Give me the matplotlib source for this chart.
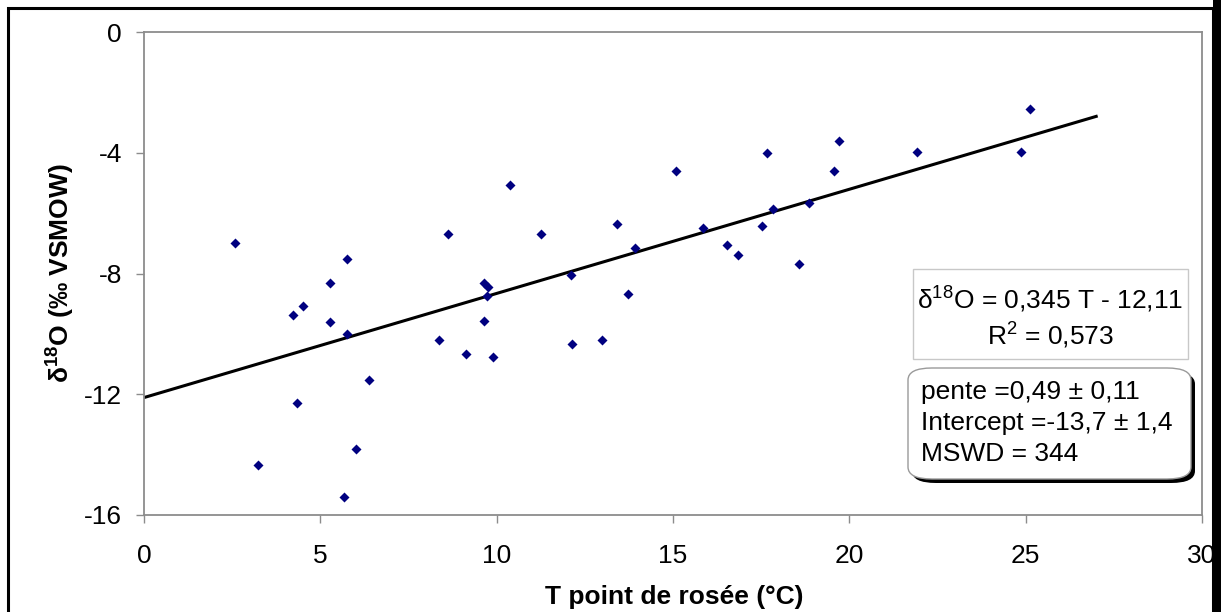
import matplotlib
matplotlib.use("Agg")
import matplotlib.pyplot as plt
from matplotlib.patches import Rectangle, FancyBboxPatch
import numpy as np

plt.rcParams['font.family'] = ['Liberation Sans', 'DejaVu Sans']
plt.rcParams['mathtext.fontset'] = 'custom'
plt.rcParams['mathtext.rm'] = 'Liberation Sans'
plt.rcParams['mathtext.bf'] = 'Liberation Sans:bold'
plt.rcParams['mathtext.default'] = 'rm'
plt.rcParams['axes.unicode_minus'] = False

# Data (dew point temperature °C, delta18O permil VSMOW)
t_dew = [2.57, 3.22, 4.22, 4.34, 4.52, 5.26, 5.26, 5.66, 5.75, 5.75, 6.01, 6.38,
         8.37, 8.63, 9.12, 9.64, 9.65, 9.73, 9.76, 9.91, 10.38, 11.25, 12.10, 12.14,
         12.99, 13.40, 13.72, 13.91, 15.08, 15.85, 16.53, 16.83, 17.53, 17.66, 17.83,
         18.56, 18.87, 19.57, 19.71, 21.93, 24.86, 25.11]
d18o = [-6.98, -14.36, -9.38, -12.30, -9.07, -8.32, -9.62, -15.39, -7.53, -10.01, -13.83, -11.52,
        -10.21, -6.69, -10.68, -8.31, -9.56, -8.73, -8.44, -10.75, -5.08, -6.70, -8.04, -10.32,
        -10.19, -6.37, -8.69, -7.15, -4.61, -6.49, -7.07, -7.39, -6.42, -4.00, -5.86,
        -7.68, -5.68, -4.61, -3.61, -3.99, -3.96, -2.54]
fit_slope = 0.345
fit_intercept = -12.11
fit_range = [0, 27]
x_ticks = [0, 5, 10, 15, 20, 25, 30]
y_ticks = [-16, -12, -8, -4, 0]

W, H = 1221, 612
FS = 19
fig = plt.figure(figsize=(W / 100, H / 100), dpi=100)

def fx(px):
    return px / W

def fy(py):
    return 1 - py / H

ax = fig.add_axes([fx(144), fy(515), fx(1202) - fx(144), fy(32) - fy(515)])
ax.set_xlim(0, 30)
ax.set_ylim(-16, 0)
ax.set_xticks(x_ticks)
ax.set_yticks(y_ticks)
ax.set_xticklabels([str(v) for v in x_ticks])
ax.set_yticklabels([str(v) for v in y_ticks])
for s in ax.spines.values():
    s.set_color('#8c8c8c')
    s.set_linewidth(1.3)
ax.tick_params(axis='both', colors='#8c8c8c', labelcolor='black', labelsize=FS,
               length=6, width=1, direction='out')
ax.tick_params(axis='x', pad=15)
ax.tick_params(axis='y', pad=10)

ax.scatter(t_dew, d18o, marker='D', s=26, color='#000080', zorder=3, linewidths=0)
xf = np.array(fit_range, dtype=float)
ax.plot(xf, fit_slope * xf + fit_intercept, color='black', lw=2.2, zorder=2)

fig.text(fx(61), fy(273), r'δ$^{\mathbf{18}}$O (‰ VSMOW)', rotation=90,
         ha='center', va='center', fontsize=FS, fontweight='bold')
fig.text(fx(674), fy(597), 'T point de rosée (°C)', ha='center', va='center',
         fontsize=FS, fontweight='bold')

# Equation box
fig.add_artist(Rectangle((fx(913), fy(359)), fx(1188) - fx(913), fy(269) - fy(359),
                         transform=fig.transFigure, facecolor='white',
                         edgecolor='#c8c8c8', lw=1, zorder=4))
fig.text(fx(1050), fy(300), r'δ$^{18}$O = 0,345 T - 12,11', ha='center', va='center',
         fontsize=FS, zorder=5)
fig.text(fx(1050), fy(336), r'R$^{2}$ = 0,573', ha='center', va='center',
         fontsize=FS, zorder=5)

# Rounded box with shadow
bx0, by0, bx1, by1 = 908, 368, 1191, 479
pad_px = 12
shadow = FancyBboxPatch((fx(bx0 + 4), fy(by1 + 4)), fx(bx1 - bx0), fy(by0) - fy(by1),
                        boxstyle=f"round,pad=0,rounding_size={pad_px/H}",
                        transform=fig.transFigure, facecolor='black', edgecolor='black',
                        lw=0, zorder=4)
fig.add_artist(shadow)
box = FancyBboxPatch((fx(bx0), fy(by1)), fx(bx1 - bx0), fy(by0) - fy(by1),
                     boxstyle=f"round,pad=0,rounding_size={pad_px/H}",
                     transform=fig.transFigure, facecolor='white', edgecolor='#9a9a9a',
                     lw=1, zorder=4.5)
fig.add_artist(box)
for txt, yy in [('pente =0,49 ± 0,11', 392), ('Intercept =-13,7 ± 1,4', 423),
                ('MSWD = 344', 454)]:
    fig.text(fx(921), fy(yy), txt, ha='left', va='center', fontsize=FS, zorder=5)

# Outer frame
fig.add_artist(Rectangle((fx(8), -0.05), fx(1213) - fx(8), fy(8) + 0.05,
                         transform=fig.transFigure, facecolor='none', edgecolor='black',
                         lw=2.2, zorder=10))
fig.add_artist(Rectangle((fx(1213), 0), fx(W) - fx(1213), 1,
                         transform=fig.transFigure, facecolor='black', edgecolor='none',
                         zorder=10))

fig.savefig('out.png', dpi=100)
